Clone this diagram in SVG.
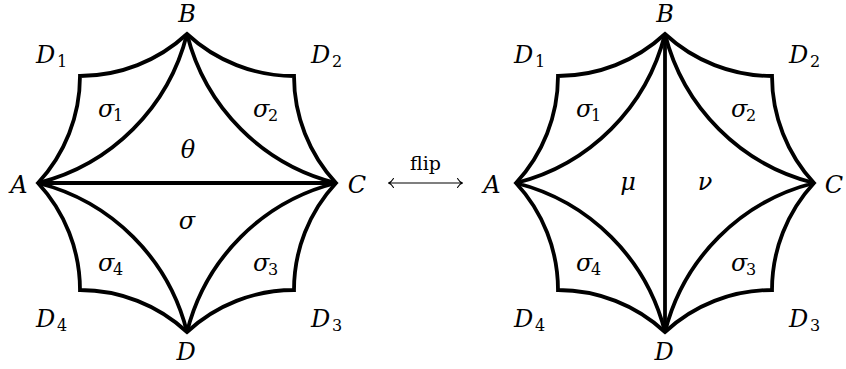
<svg xmlns="http://www.w3.org/2000/svg" width="846" height="369" viewBox="0 0 846 369">
<style>
.edge{fill:none;stroke:#000;stroke-width:3.8;stroke-linejoin:miter;stroke-miterlimit:10}
text{font-family:'DejaVu Serif','Liberation Serif',serif;fill:#000}
.lbl{font-style:italic;font-size:24px}
.sub{font-style:normal;font-size:16px}
.mid{text-anchor:middle}
.rm{font-size:19px;text-anchor:middle}
.arr{fill:none;stroke:#000;stroke-width:1.1;stroke-linecap:round;stroke-linejoin:round}
</style>
<defs>
<g id="shape">
<path class="edge" d="M-149,0 A157.3,157.3 0 0 0 -107,-107 A157.3,157.3 0 0 0 0,-149 A157.3,157.3 0 0 0 107,-107 A157.3,157.3 0 0 0 149,0 A157.3,157.3 0 0 0 107,107 A157.3,157.3 0 0 0 0,149 A157.3,157.3 0 0 0 -107,107 A157.3,157.3 0 0 0 -149,0 Z"/>
<path class="edge" d="M-149,0 A205,205 0 0 0 0,-149 M0,-149 A205,205 0 0 0 149,0 M149,0 A205,205 0 0 0 0,149 M0,149 A205,205 0 0 0 -149,0"/>
</g>
</defs>
<g id="left">
<use href="#shape" transform="translate(187,183)"/>
<path class="edge" d="M38,183 H336"/>
<text class="lbl mid" x="187" y="22">B</text>
<text class="lbl mid" x="19" y="193">A</text>
<text class="lbl mid" x="357" y="193">C</text>
<text class="lbl mid" x="186" y="360">D</text>
<text class="lbl" x="36" y="63">D<tspan class="sub" x="57" dy="4">1</tspan></text>
<text class="lbl" x="311" y="63">D<tspan class="sub" x="332" dy="4">2</tspan></text>
<text class="lbl" x="311" y="327">D<tspan class="sub" x="332" dy="4">3</tspan></text>
<text class="lbl" x="36" y="327">D<tspan class="sub" x="57" dy="4">4</tspan></text>
<text class="lbl" x="98" y="117">σ<tspan class="sub" x="113" dy="4">1</tspan></text>
<text class="lbl" x="253" y="117">σ<tspan class="sub" x="268" dy="4">2</tspan></text>
<text class="lbl" x="253" y="271">σ<tspan class="sub" x="268" dy="4">3</tspan></text>
<text class="lbl" x="98" y="271">σ<tspan class="sub" x="113" dy="4">4</tspan></text>
<text class="lbl mid" x="188" y="158">θ</text>
<text class="lbl mid" x="187" y="229">σ</text>
</g>
<g id="connectors">
<text class="rm" x="425.5" y="170">flip</text>
<path class="arr" d="M389,183 H462 M393.5,178.5 Q391.5,182 388.5,183 Q391.5,184 393.5,187.5 M457.5,178.5 Q459.5,182 462.5,183 Q459.5,184 457.5,187.5"/>
</g>
<g id="right">
<use href="#shape" transform="translate(665,183)"/>
<path class="edge" d="M665,34 V332"/>
<text class="lbl mid" x="665" y="22">B</text>
<text class="lbl mid" x="492" y="193">A</text>
<text class="lbl mid" x="834" y="193">C</text>
<text class="lbl mid" x="664" y="360">D</text>
<text class="lbl" x="514" y="63">D<tspan class="sub" x="535" dy="4">1</tspan></text>
<text class="lbl" x="789" y="63">D<tspan class="sub" x="810" dy="4">2</tspan></text>
<text class="lbl" x="789" y="327">D<tspan class="sub" x="810" dy="4">3</tspan></text>
<text class="lbl" x="514" y="327">D<tspan class="sub" x="535" dy="4">4</tspan></text>
<text class="lbl" x="576" y="117">σ<tspan class="sub" x="591" dy="4">1</tspan></text>
<text class="lbl" x="731" y="117">σ<tspan class="sub" x="746" dy="4">2</tspan></text>
<text class="lbl" x="731" y="271">σ<tspan class="sub" x="746" dy="4">3</tspan></text>
<text class="lbl" x="576" y="271">σ<tspan class="sub" x="591" dy="4">4</tspan></text>
<text class="lbl mid" x="628" y="190">μ</text>
<text class="lbl mid" x="705" y="190">ν</text>
</g>
</svg>
